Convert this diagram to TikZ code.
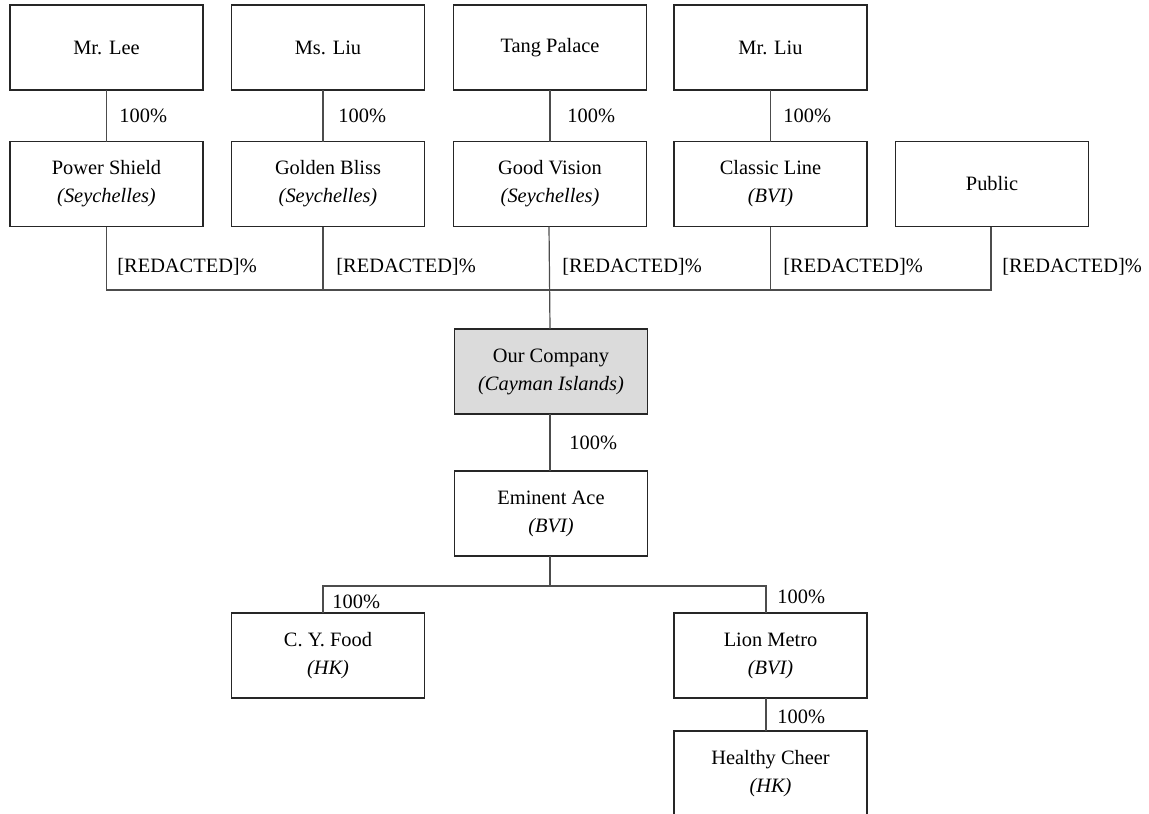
\documentclass[tikz,border=0pt]{standalone}
\usepackage{fontspec}
\setmainfont{Liberation Serif}
\usetikzlibrary{positioning}

\begin{document}
\begin{tikzpicture}[
			x=0.5pt, y=-0.5pt,
			every node/.style={font=\fontsize{10.2}{14}\selectfont},
			box/.style={
				draw=black!85,
				line width=0.6pt,
				align=center,
				minimum width=96.5pt,
				minimum height=42.5pt,
				inner sep=0pt,
				outer sep=0pt
			},
			ourbox/.style={box, fill=black!14},
			pct/.style={anchor=west, inner sep=0pt},
			link/.style={draw=black!70, line width=0.6pt}
			]
			\useasboundingbox (0,0) rectangle (1149,813);
			\clip (0,0) rectangle (1149,813);
			
			% ---- Owners ----
			\node[box] (lee) at (106.5,47.5) {Mr. Lee};
			\node[box] (msliu) at (328,47.5) {Ms. Liu};
			\node[box] (tang) at (550,47.5) {Tang Palace};
			\node[box] (mrliu) at (770.5,47.5) {Mr. Liu};
			
			% ---- Holding vehicles ----
			\node[box] (power) at (106.5,184) {Power Shield\\\textit{(Seychelles)}};
			\node[box] (golden) at (328,184) {Golden Bliss\\\textit{(Seychelles)}};
			\node[box] (vision) at (550,184) {Good Vision\\\textit{(Seychelles)}};
			\node[box] (classic) at (770.5,184) {Classic Line\\\textit{(BVI)}};
			\node[box] (public) at (992,184) {Public};
			
			% ---- Group ----
			\node[ourbox] (ourco) at (551,371.5) {Our Company\\\textit{(Cayman Islands)}};
			\node[box] (eminent) at (551,513.5) {Eminent Ace\\\textit{(BVI)}};
			\node[box] (cyfood) at (328,655.5) {C. Y. Food\\\textit{(HK)}};
			\node[box] (lion) at (770.5,655.5) {Lion Metro\\\textit{(BVI)}};
			\node[box] (healthy) at (770.5,773.5) {Healthy Cheer\\\textit{(HK)}};
			
			\coordinate (topbus) at (550,290);
			\coordinate (lowbus) at (550,586);
			
			% ---- Top links ----
			\draw[link] (lee) -- (power);
			\draw[link] ([xshift=-2.5pt]msliu.south) -- ([xshift=-2.5pt]golden.north);
			\draw[link] (tang) -- (vision);
			\draw[link] (mrliu) -- (classic);
			
			% ---- Shareholder bus ----
			\draw[link] (power.south) |- ([xshift=-0.5pt]public.south |- topbus) -- ([xshift=-0.5pt]public.south);
			\draw[link] ([xshift=-2.5pt]golden.south) -- ([xshift=-2.5pt]golden.south |- topbus);
			\draw[link] (classic.south) -- (classic.south |- topbus);
			\draw[link] ([xshift=-0.5pt]vision.south) -- ([xshift=-0.5pt]ourco.north);
			
			% ---- Group links ----
			\draw[link] ([xshift=-0.5pt]ourco.south) -- ([xshift=-0.5pt]eminent.north);
			\draw[link] ([xshift=-0.5pt]eminent.south) -- ([xshift=-0.5pt]eminent.south |- lowbus);
			\draw[link] ([xshift=-2.5pt]cyfood.north) |- ([xshift=-2.25pt]lion.north |- lowbus) -- ([xshift=-2.25pt]lion.north);
			\draw[link] ([xshift=-2.25pt]lion.south) -- ([xshift=-2.25pt]healthy.north);
			
			% ---- Percentages ----
			\node[pct] (p1) at (119,116) {100\%};
			\node[pct] (p2) at (338,116) {100\%};
			\node[pct] (p3) at (567,116) {100\%};
			\node[pct] (p4) at (783,116) {100\%};
			\node[pct] (r1) at (117,267) {[REDACTED]\%};
			\node[pct] (r2) at (336,267) {[REDACTED]\%};
			\node[pct] (r3) at (562,267) {[REDACTED]\%};
			\node[pct] (r4) at (783,267) {[REDACTED]\%};
			\node[pct] (r5) at (1002,267) {[REDACTED]\%};
			\node[pct] (p5) at (569,443) {100\%};
			\node[pct] (p6) at (332,602) {100\%};
			\node[pct] (p7) at (777,597) {100\%};
			\node[pct] (p8) at (777,717) {100\%};
			
		\end{tikzpicture}
\end{document}
